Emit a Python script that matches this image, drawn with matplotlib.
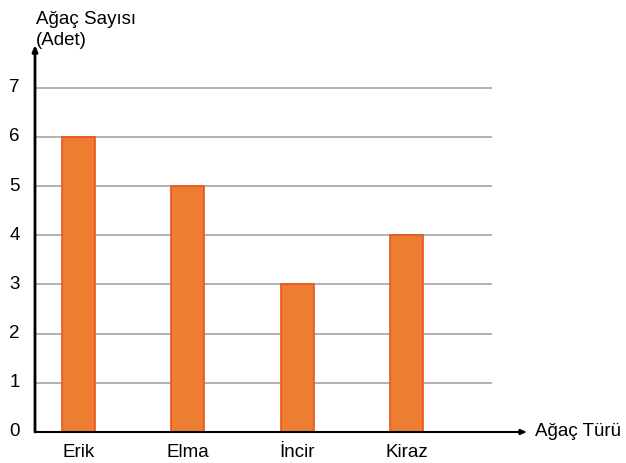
import matplotlib.pyplot as plt

plt.rcParams['font.family'] = ['Liberation Sans', 'DejaVu Sans']

turler = ['Erik', 'Elma', 'İncir', 'Kiraz']
sayilar = [6, 5, 3, 4]
y_ticks = [0, 1, 2, 3, 4, 5, 6, 7]

fig = plt.figure(figsize=(6.26, 4.63), dpi=100)
ax = fig.add_axes([35 / 626, 31 / 463, 492 / 626, 387 / 463])

x = list(range(len(turler)))
x_left, x_right = -0.398, 4.102
grid_end = 3.78

ax.hlines(y_ticks[1:], x_left, grid_end, color='#a6a6a6', linewidth=1.2, zorder=1)
ax.bar(x, sayilar, width=0.30, color='#ed7d31', edgecolor='#e8541e',
       linewidth=1.2, zorder=2)

ax.set_xlim(x_left, x_right)
ax.set_ylim(0, 7.87)
for s in ax.spines.values():
    s.set_visible(False)
ax.set_xticks([])
ax.set_yticks([])

# eksen oklari
ax.annotate('', xy=(x_right, 0), xytext=(x_left, 0),
            arrowprops=dict(arrowstyle='-|>,head_length=0.35,head_width=0.15',
                            color='black', lw=1.5, shrinkA=0, shrinkB=0),
            annotation_clip=False, zorder=3)
ax.annotate('', xy=(x_left, 7.87), xytext=(x_left, 0),
            arrowprops=dict(arrowstyle='-|>,head_length=0.35,head_width=0.15',
                            color='black', lw=2, shrinkA=0, shrinkB=0),
            annotation_clip=False, zorder=3)

fs = 13.5
for t in y_ticks:
    ax.text(x_left - 0.14, t, str(t), ha='right', va='center', fontsize=fs)
for xi, name in zip(x, turler):
    ax.text(xi, -0.42, name, ha='center', va='center', fontsize=fs)

fig.text(36 / 626, 1 - 30 / 463, 'Ağaç Sayısı\n(Adet)', ha='left', va='center',
         fontsize=fs, linespacing=1.28)
fig.text(535 / 626, 1 - 432 / 463, 'Ağaç Türü', ha='left', va='center', fontsize=fs)

fig.savefig('out.png', dpi=100)
